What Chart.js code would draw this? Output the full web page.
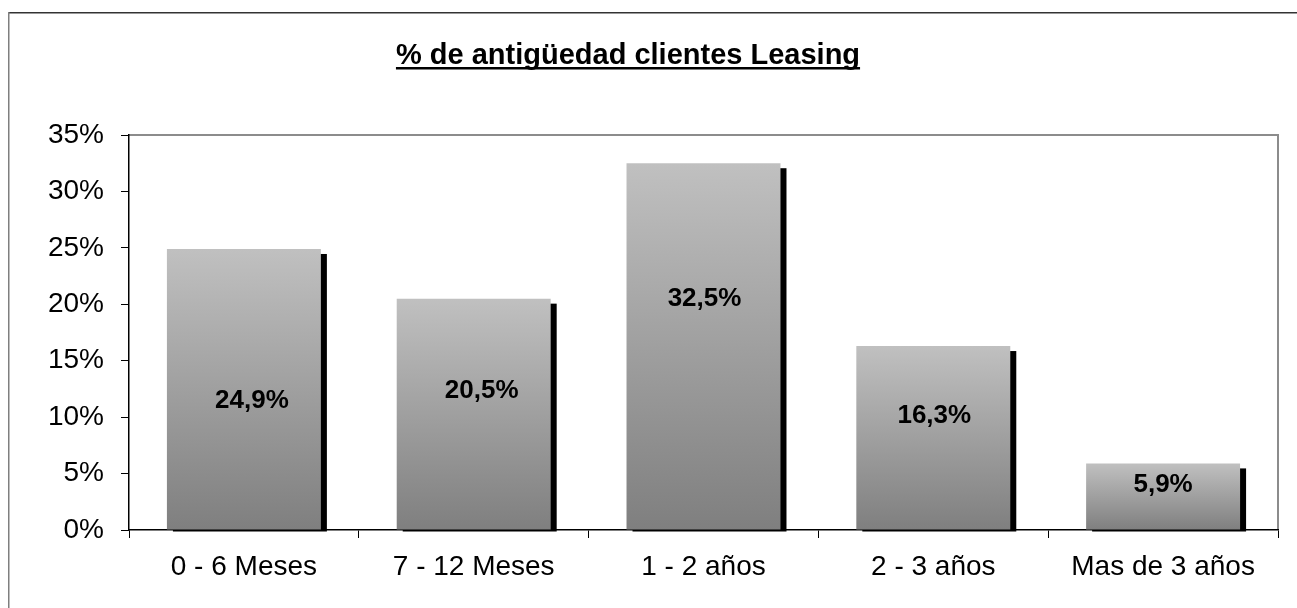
<!DOCTYPE html>
<html>
<head>
<meta charset="utf-8">
<script src="https://cdn.jsdelivr.net/npm/chart.js@4"></script>
<style>
  body { margin: 0; background: #fff; }
  #wrap { width: 1297px; height: 608px; position: relative; }
</style>
</head>
<body>
<div id="wrap"><canvas id="antiguedadChart" width="1297" height="608"></canvas></div>
<script>
const categories = ['0 - 6 Meses', '7 - 12 Meses', '1 - 2 años', '2 - 3 años', 'Mas de 3 años'];
const percentValues = [24.9, 20.5, 32.5, 16.3, 5.9];
const yTicks = [0, 5, 10, 15, 20, 25, 30, 35];
const chartTitle = '% de antigüedad clientes Leasing';

const FONT = 'Arial, "Liberation Sans", sans-serif';

// frame, title and plot border (Excel style)
const framePlugin = {
    id: 'frame',
    beforeDraw(chart) {
        const ctx = chart.ctx;
        const a = chart.chartArea;
        ctx.save();
        // outer border
        ctx.fillStyle = '#333';
        ctx.fillRect(8, 12, 1289, 1.5);
        ctx.fillStyle = '#7f7f7f';
        ctx.fillRect(8, 12, 1.5, 596);
        // title
        ctx.fillStyle = '#000';
        ctx.font = 'bold 29px ' + FONT;
        ctx.textAlign = 'center';
        ctx.textBaseline = 'alphabetic';
        ctx.fillText(chartTitle, 628, 64);
        const w = ctx.measureText(chartTitle).width;
        ctx.fillRect(628 - w / 2, 67, w, 2.5);
        // plot area top/right border
        ctx.fillStyle = '#8c8c8c';
        ctx.fillRect(a.left, a.top - 1, a.right - a.left + 1, 2);
        ctx.fillRect(a.right - 1, a.top - 1, 2, a.bottom - a.top + 1);
        ctx.restore();
    }
};

// black drop shadow behind each bar
const shadowPlugin = {
    id: 'barShadow',
    beforeDatasetsDraw(chart) {
        const ctx = chart.ctx;
        ctx.save();
        ctx.fillStyle = '#000';
        chart.getDatasetMeta(0).data.forEach(bar => {
            const left = bar.x - bar.width / 2;
            ctx.fillRect(left + 6, bar.y + 5, bar.width, bar.base - bar.y - 3);
        });
        ctx.restore();
    }
};

// value labels inside bars
const labelPlugin = {
    id: 'barLabels',
    afterDatasetsDraw(chart, args, opts) {
        const ctx = chart.ctx;
        ctx.save();
        ctx.fillStyle = '#000';
        ctx.font = 'bold 26px ' + FONT;
        ctx.textAlign = 'center';
        ctx.textBaseline = 'middle';
        chart.getDatasetMeta(0).data.forEach((bar, i) => {
            const f = opts.heightFraction[i];
            const y = bar.base - (bar.base - bar.y) * f;
            const txt = percentValues[i].toFixed(1).replace('.', ',') + '%';
            ctx.fillText(txt, bar.x + opts.xShift[i], y);
        });
        ctx.restore();
    }
};

const ctxBars = document.getElementById('antiguedadChart').getContext('2d');

const antiguedadChart = new Chart(ctxBars, {
    type: 'bar',
    data: {
        labels: categories,
        datasets: [{
            data: percentValues,
            backgroundColor: (c) => {
                const chart = c.chart;
                if (!chart.chartArea || c.dataIndex === undefined) return '#a0a0a0';
                const ys = chart.scales.y;
                const top = ys.getPixelForValue(percentValues[c.dataIndex]);
                const base = ys.getPixelForValue(0);
                const g = chart.ctx.createLinearGradient(0, top, 0, base);
                g.addColorStop(0, '#c0c0c0');
                g.addColorStop(1, '#7f7f7f');
                return g;
            },
            borderWidth: 0,
            categoryPercentage: 1,
            barPercentage: 0.67
        }]
    },
    options: {
        responsive: false,
        animation: false,
        devicePixelRatio: 1,
        layout: { padding: { left: 0, top: 135, right: 19, bottom: 0 } },
        plugins: {
            legend: { display: false },
            tooltip: { enabled: false },
            barLabels: {
                heightFraction: [0.46, 0.6, 0.63, 0.62, 0.68],
                xShift: [8, 8, 1, 1, 0]
            }
        },
        scales: {
            x: {
                afterFit: (s) => { s.height = 78; },
                grid: {
                    offset: true,
                    drawOnChartArea: false,
                    drawTicks: true,
                    tickLength: 8,
                    color: '#000'
                },
                border: { color: '#000', width: 1.5 },
                ticks: {
                    color: '#000',
                    font: { family: FONT, size: 28 },
                    padding: 12
                }
            },
            y: {
                min: 0,
                max: 35,
                afterFit: (s) => { s.width = 129; },
                afterBuildTicks: (s) => { s.ticks = yTicks.map(v => ({ value: v })); },
                grid: {
                    drawOnChartArea: false,
                    drawTicks: true,
                    tickLength: 8,
                    color: '#000'
                },
                border: { color: '#000', width: 1.5 },
                ticks: {
                    color: '#000',
                    font: { family: FONT, size: 28 },
                    padding: 17,
                    callback: (v) => v + '%'
                }
            }
        }
    },
    plugins: [framePlugin, shadowPlugin, labelPlugin]
});
</script>
</body>
</html>
